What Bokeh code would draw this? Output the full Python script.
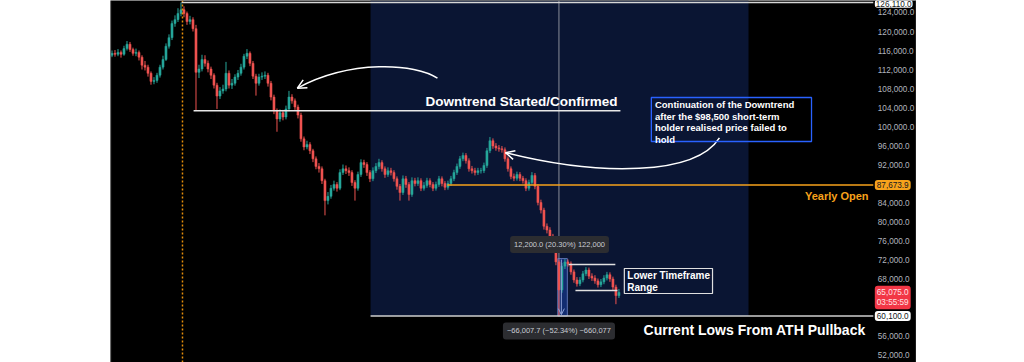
from bokeh.plotting import figure
from bokeh.models import (Range1d, Label, BoxAnnotation, Arrow, OpenHead, Spacer, Span)
from bokeh.layouts import row
from bokeh.embed import file_html
from bokeh.resources import INLINE
from bokeh.core.properties import value

# ---------------- data (prices in thousands of USD) ----------------
FIRST_OPEN_K = 115.0
CLOSE_K = [
    115.4, 115.2, 115.6, 115.2, 116.4, 117.3, 116.2, 115.4, 115.6, 114.6,
    112.9, 112.5, 111.2, 109.5, 109.7, 110.8, 112.5, 114.1, 116.9, 118.7,
    121.7, 122.5, 123.8, 124.6, 123.8, 122.1, 122.5, 120.6, 111.4, 112.1,
    114.1, 113.3, 112.1, 110.8, 108.7, 106.4, 107.5, 107.9, 111.2, 108.7,
    109.1, 110.4, 111.2, 112.5, 114.8, 115.4, 113.3, 110.6, 109.1, 110.4,
    110.6, 110.8, 109.1, 106.2, 103.3, 101.6, 102.9, 102.0, 103.7, 106.2,
    105.4, 104.1, 102.4, 97.4, 95.7, 96.2, 94.9, 93.2, 91.6, 91.1,
    88.6, 84.4, 85.3, 87.0, 87.8, 87.0, 90.3, 91.1, 90.7, 90.3,
    88.2, 87.0, 89.9, 92.4, 92.0, 90.3, 89.0, 90.7, 91.6, 92.4,
    91.1, 89.9, 90.7, 90.3, 89.0, 87.4, 86.1, 89.0, 87.8, 85.7,
    88.6, 88.0, 88.6, 87.0, 87.6, 88.6, 87.8, 87.0, 87.8, 89.0,
    88.0, 87.2, 88.0, 89.0, 90.3, 91.6, 93.2, 93.9, 92.8, 91.1,
    90.7, 90.3, 90.7, 90.7, 91.8, 94.9, 97.0, 95.9, 95.5, 95.3,
    95.1, 93.2, 91.1, 89.5, 89.1, 89.9, 89.1, 88.6, 87.0, 88.2,
    89.7, 87.4, 84.0, 82.4, 79.0, 78.2, 76.9, 74.4, 71.5, 65.6,
    70.6, 71.5, 71.1, 69.4, 67.7, 66.9, 67.7, 69.0, 69.8, 68.5,
    68.1, 67.5, 66.7, 67.3, 68.1, 68.8, 67.9, 66.2, 64.4, 65.075,
]
HIGH_K = [
    116.0, 116.1, 116.3, 116.0, 117.0, 118.0, 117.8, 116.6, 116.4, 116.0,
    115.0, 113.8, 113.0, 111.6, 110.4, 111.3, 113.0, 114.9, 117.5, 119.4,
    122.3, 123.4, 124.9, 126.11, 125.3, 124.2, 123.3, 123.0, 121.4, 113.0,
    115.1, 115.0, 113.9, 112.6, 111.2, 109.2, 108.3, 108.8, 113.6, 111.8,
    110.0, 111.0, 111.9, 113.2, 115.3, 116.3, 115.8, 113.8, 111.1, 111.1,
    111.4, 111.6, 111.3, 109.6, 106.7, 103.8, 103.6, 103.5, 104.4, 107.5,
    106.8, 105.9, 104.6, 102.9, 97.9, 97.0, 96.7, 95.3, 93.7, 92.3,
    91.6, 89.0, 86.2, 87.7, 88.6, 88.3, 91.0, 92.0, 91.8, 91.4,
    90.8, 88.7, 90.5, 93.1, 93.0, 92.5, 90.8, 91.4, 92.3, 93.2,
    92.9, 91.6, 91.4, 91.3, 90.8, 89.5, 87.9, 89.7, 89.6, 88.3,
    89.3, 89.2, 89.3, 89.1, 88.3, 89.2, 89.1, 88.3, 88.4, 89.6,
    89.5, 88.5, 88.6, 89.6, 90.9, 92.2, 93.8, 94.5, 94.4, 93.3,
    91.7, 91.3, 91.3, 91.3, 92.4, 95.5, 97.8, 97.5, 96.5, 96.1,
    95.9, 95.6, 93.7, 91.6, 90.1, 90.5, 90.4, 89.6, 89.1, 88.8,
    90.4, 90.2, 87.9, 84.6, 82.9, 79.6, 78.8, 77.4, 74.9, 72.0,
    71.3, 72.1, 72.0, 71.6, 69.9, 68.3, 68.3, 69.6, 70.4, 70.3,
    69.1, 68.7, 68.0, 67.9, 68.7, 69.4, 69.3, 68.4, 66.7, 65.8,
]
LOW_K = [
    114.6, 114.7, 114.8, 114.5, 114.9, 116.0, 115.7, 114.9, 114.8, 113.9,
    112.0, 111.8, 110.5, 108.8, 108.9, 109.2, 110.3, 112.0, 113.8, 116.4,
    118.2, 121.0, 122.0, 123.2, 123.0, 121.4, 121.5, 120.0, 103.3, 110.2,
    111.6, 112.6, 111.4, 110.0, 108.0, 103.7, 105.8, 106.9, 107.4, 108.0,
    107.9, 108.6, 109.8, 110.7, 112.0, 114.2, 112.7, 110.0, 106.5, 108.6,
    109.8, 110.0, 108.4, 105.5, 102.6, 98.9, 101.0, 101.3, 101.5, 103.2,
    104.8, 103.5, 101.7, 96.8, 95.0, 95.2, 94.2, 92.5, 91.0, 90.3,
    87.9, 81.3, 83.6, 84.8, 86.5, 86.3, 86.6, 89.8, 90.0, 89.6,
    87.5, 84.4, 86.5, 89.4, 91.3, 89.6, 88.3, 88.5, 90.2, 91.0,
    90.5, 89.2, 89.4, 89.7, 88.4, 86.7, 84.4, 85.6, 87.1, 84.4,
    85.2, 87.4, 87.5, 86.4, 86.5, 87.1, 87.2, 86.4, 86.5, 87.3,
    87.4, 86.6, 86.7, 87.5, 88.5, 89.8, 91.1, 92.7, 92.2, 90.5,
    90.1, 89.7, 89.8, 90.1, 90.2, 91.3, 94.4, 95.3, 94.9, 94.7,
    94.5, 92.6, 90.5, 88.9, 88.5, 88.6, 88.5, 88.0, 86.4, 86.5,
    87.7, 86.8, 83.4, 81.7, 78.3, 77.5, 76.2, 73.7, 70.8, 60.1,
    65.0, 70.0, 70.5, 68.8, 67.1, 66.3, 66.4, 67.2, 68.5, 67.9,
    67.5, 66.9, 66.1, 66.2, 66.8, 67.6, 67.3, 65.6, 62.6, 63.9,
]

ATH = 126110.0
DOWNTREND_LEVEL = 103300.0
YEARLY_OPEN = 87673.9
CURRENT_LOW = 60100.0
LAST_PRICE = 65075.0
LTF_RANGE_HIGH = 70950.0
LTF_RANGE_LOW = 65480.0
Y_TICKS = [52000, 56000, 60000, 64000, 68000, 72000, 76000, 80000, 84000, 88000,
           92000, 96000, 100000, 104000, 108000, 112000, 116000, 120000, 124000]

# ---------------- derived candle columns ----------------
closes = [c * 1000 for c in CLOSE_K]
highs = [h * 1000 for h in HIGH_K]
lows = [l * 1000 for l in LOW_K]
opens = [FIRST_OPEN_K * 1000] + closes[:-1]
idx = list(range(len(closes)))
UP, DOWN = "#26a69a", "#ef5350"
colors = [UP if c >= o else DOWN for o, c in zip(opens, closes)]
tops = [max(o, c) for o, c in zip(opens, closes)]
bots = [min(o, c) for o, c in zip(opens, closes)]
tick_labels = [f"{t:,.1f}" for t in Y_TICKS]

FONT = "Liberation Sans"
YTOP, YBOT = 126526, 50324
XEND = 253.8          # right edge of the price area (price scale begins here)
XMAX = 268.2          # right edge of the black panel

p = figure(width=806, height=362, x_range=Range1d(-0.5, XMAX), y_range=Range1d(YBOT, YTOP),
           output_backend="svg", toolbar_location=None, tools="",
           x_axis_location=None, y_axis_location=None,
           min_border_left=0, min_border_right=0, min_border_top=0, min_border_bottom=0,
           background_fill_color="black", border_fill_color="black", outline_line_color=None)
p.grid.visible = False

# highlighted date range
p.quad(left=86.2, right=212.2, bottom=CURRENT_LOW, top=YTOP, fill_color="#0a1533", line_color=None)

# crosshair
p.segment(x0=149, y0=CURRENT_LOW, x1=149, y1=YTOP, line_color="#8a8e99", line_width=1)

# measure box
p.quad(left=148.6, right=151.8, bottom=CURRENT_LOW, top=72200, fill_color="#2962ff",
       fill_alpha=0.3, line_color="#6f87c9", line_alpha=0.8, line_width=1)

# candles
p.segment(x0=idx, y0=lows, x1=idx, y1=highs, line_color=colors, line_width=1)
p.vbar(x=idx, width=0.7, top=tops, bottom=bots, fill_color=colors, line_color=colors, line_width=0.5)

# ATH dotted vertical
p.segment(x0=23.5, y0=YBOT, x1=23.5, y1=YTOP, line_color="#e58e0a", line_dash="2 2", line_width=1.5)

# horizontal levels
p.segment(x0=23.2, y0=ATH, x1=XEND, y1=ATH, line_color="#d6d6d6", line_width=1.5)
p.segment(x0=27.2, y0=DOWNTREND_LEVEL, x1=169.5, y1=DOWNTREND_LEVEL, line_color="#e8e8e8", line_width=1.5)
p.segment(x0=111.8, y0=YEARLY_OPEN, x1=XEND, y1=YEARLY_OPEN, line_color="#f7a21b", line_width=1.5)
p.segment(x0=86.2, y0=CURRENT_LOW, x1=XEND, y1=CURRENT_LOW, line_color="#cfcfcf", line_width=1.5)
p.segment(x0=152.2, y0=LTF_RANGE_HIGH, x1=167.8, y1=LTF_RANGE_HIGH, line_color="#e0e0e0", line_width=1.5)
p.segment(x0=154.5, y0=LTF_RANGE_LOW, x1=168.5, y1=LTF_RANGE_LOW, line_color="#e0e0e0", line_width=1.5)

# panel edges
p.add_layout(Span(location=-0.45, dimension="height", line_color="#5a5a5a", line_width=1))
p.add_layout(Span(location=XMAX - 0.1, dimension="height", line_color="#5a5a5a", line_width=1))

# measure arrow
p.add_layout(Arrow(x_start=149.8, y_start=72000, x_end=149.8, y_end=60400,
                   end=OpenHead(size=6, line_color="#8fa3d8", line_width=1),
                   line_color="#8fa3d8", line_width=1))

# curved arrows
p.bezier(x0=[108.5, 202.5], y0=[110170, 97621], x1=[61.8, 131.2], y1=[108078, 94484],
         cx0=[101.2, 194.5], cy0=[113307, 89673], cx1=[79.5, 162.8], cy1=[114144, 89464],
         line_color="white", line_width=1.5)
p.add_layout(Arrow(x_start=63.6, y_start=108685, x_end=61.8, y_end=108078,
                   end=OpenHead(size=9, line_color="white", line_width=1.5), line_alpha=0))
p.add_layout(Arrow(x_start=133.1, y_start=94170, x_end=131.2, y_end=94484,
                   end=OpenHead(size=9, line_color="white", line_width=1.5), line_alpha=0))

# boxes
p.add_layout(BoxAnnotation(left=179.8, right=233.2, top=106108, bottom=96846,
                           fill_alpha=0, line_color="#2962ff", line_alpha=1, line_width=1.3))
p.add_layout(BoxAnnotation(left=170.8, right=200.2, top=70112, bottom=64850,
                           fill_alpha=0, line_color="#e0e0e0", line_alpha=1, line_width=1.2))

# price scale labels
p.text(x=255.3, y=Y_TICKS, text=tick_labels, text_font=value(FONT), text_font_size="8.2px",
       text_color="#b2b5be", text_align="left", text_baseline="middle")


def add_text(x, y, text, size, color="white", align="left", baseline="middle", bold=True, lh=1.1):
    p.add_layout(Label(x=x, y=y, text=text, text_font=FONT, text_font_size=size,
                       text_color=color, text_align=align, text_baseline=baseline,
                       text_font_style="bold" if bold else "normal", text_line_height=lh))


add_text(104.5, 105265, "Downtrend Started/Confirmed", "13.5px")
add_text(252.2, 85268, "Yearly Open", "11px", color="#f7a21b", align="right")
add_text(177.2, 57270, "Current Lows From ATH Pullback", "14px")
add_text(181.0, 105800, "Continuation of the Downtrend\nafter the $98,500 short-term\nholder realised price failed to\nhold",
         "9.5px", baseline="top", lh=1.05)
add_text(171.8, 69900, "Lower Timeframe\nRange", "10px", baseline="top", lh=1.1)


def add_tag(x, y, text, bg, fg, size="7.5px", pad=4, align="center"):
    p.add_layout(Label(x=x, y=y, text=text, text_font=FONT, text_font_size=size,
                       text_color=fg, text_align=align, text_baseline="middle",
                       background_fill_color=bg, padding=pad, border_radius=3, text_line_height=1.15))


add_tag(149.2, 75164, "12,200.0 (20.30%) 122,000", "#2c2d31", "#c9ccd4")
add_tag(149.0, 56955, "\u221266,007.7 (\u221252.34%) \u2212660,077", "#2c2d31", "#c9ccd4")

# price-scale badges (the ATH badge sits at the very top edge of the panel)
add_tag(254.3, 125850, "126,110.0", "#ffffff", "#131722", size="8.2px", pad=1, align="left")
add_tag(254.3, YEARLY_OPEN, "87,673.9", "#f7a21b", "#131722", size="8.2px", pad=2, align="left")
add_tag(254.3, 64010, "65,075.0\n03:55:59", "#f23645", "#ffe3e6", size="8.2px", pad=2, align="left")
add_tag(254.3, CURRENT_LOW, "60,100.0", "#ffffff", "#131722", size="8.2px", pad=2, align="left")

layout = row(Spacer(width=110, height=362), p)
open("out.html", "w").write(file_html(layout, INLINE))
